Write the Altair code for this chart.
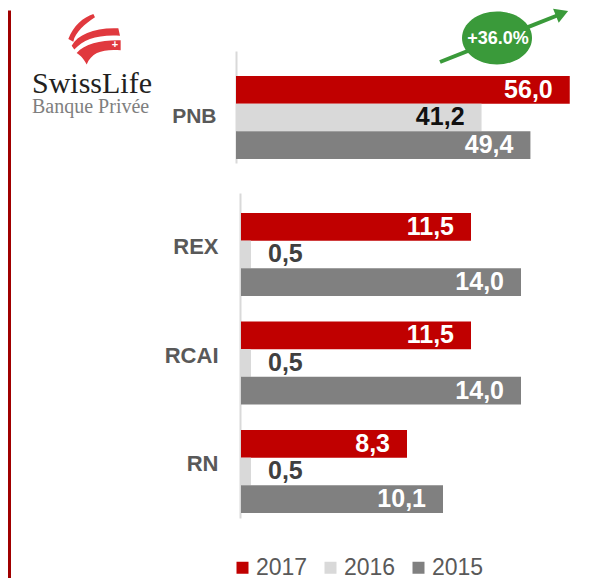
import altair as alt
import pandas as pd

years = ["2017", "2016", "2015"]
colors = ["#C00000", "#D9D9D9", "#808080"]

top_cats = ["PNB"]
top_2017 = [56.0]
top_2016 = [41.2]
top_2015 = [49.4]

bottom_cats = ["REX", "RCAI", "RN"]
bot_2017 = [11.5, 11.5, 8.3]
bot_2016 = [0.5, 0.5, 0.5]
bot_2015 = [14.0, 14.0, 10.1]

growth_label = "+36.0%"
logo_name = "SwissLife"
logo_sub = "Banque Privée"


def long_df(cats, v17, v16, v15):
    rows = []
    for i, c in enumerate(cats):
        for y, vals in zip(years, [v17, v16, v15]):
            rows.append({"cat": c, "year": y, "value": vals[i]})
    return pd.DataFrame(rows)


df_top = long_df(top_cats, top_2017, top_2016, top_2015)
df_bot = long_df(bottom_cats, bot_2017, bot_2016, bot_2015)

FONT = "Liberation Sans"

legend = alt.Legend(
    orient="none", legendX=-5, legendY=505, direction="horizontal",
    title=None, symbolType="square", symbolSize=144, symbolStrokeWidth=0,
    labelFontSize=23, labelColor="#595959", labelFont=FONT,
    labelOffset=2, columnPadding=11,
)


def panel(df, cats, x_domain, height, pad_inner, pad_outer, align,
          label_size, label_pad, axis_offset, dark_label):
    base = alt.Chart(df).transform_calculate(
        lab="replace(format(datum.value, '.1f'), '.', ',')"
    )
    y = alt.Y(
        "cat:N", sort=cats, title=None,
        scale=alt.Scale(paddingInner=pad_inner, paddingOuter=pad_outer, align=align),
        axis=alt.Axis(
            ticks=False, tickSize=0, labelFontSize=label_size, labelFontWeight="bold",
            labelColor="#595959", labelFont=FONT, labelPadding=label_pad,
            domainColor="#D9D9D9", domainWidth=2, offset=axis_offset,
            minExtent=80, maxExtent=80,
        ),
    )
    yoff = alt.YOffset("year:N", sort=years,
                       scale=alt.Scale(paddingInner=0, paddingOuter=0))
    x = alt.X("value:Q", scale=alt.Scale(domain=x_domain, nice=False, zero=False),
              axis=None)
    bars = base.mark_bar().encode(
        x=x, y=y, yOffset=yoff,
        color=alt.Color("year:N", sort=years,
                        scale=alt.Scale(domain=years, range=colors), legend=legend),
    )
    inside = base.transform_filter("datum.value >= 1").mark_text(
        align="right", dx=-17, baseline="middle", fontSize=25,
        fontWeight="bold", font=FONT,
    ).encode(
        x=x, y=y, yOffset=yoff, text="lab:N",
        color=alt.condition("datum.year == '2016'", alt.value(dark_label),
                            alt.value("white")),
    )
    outside = base.transform_filter("datum.value < 1").mark_text(
        align="left", dx=17, baseline="middle", fontSize=25,
        fontWeight="bold", font=FONT, color="#404040",
    ).encode(x=x, y=y, yOffset=yoff, text="lab:N")
    return bars, inside, outside


tb, ti, to = panel(df_top, top_cats, [0, 57.72], 112, 0, 0.1747, 0.862,
                   21, 20, 0, "#111111")
bb, bi, bo = panel(df_bot, bottom_cats, [-0.25, 16.95], 325, 0.373, 0.184, 0.5,
                   22, 22, -4, "#404040")

one = pd.DataFrame({"k": [0]})
deco = alt.Chart(one)

red_border = deco.mark_rule(color="#A00000", strokeWidth=3).encode(
    x=alt.value(-226.5), y=alt.value(-40.5), y2=alt.value(527))

arrow_line = deco.mark_rule(color="#3A9A3A", strokeWidth=4).encode(
    x=alt.value(204), y=alt.value(11), x2=alt.value(325), y2=alt.value(-37))
arrow_head = deco.mark_point(shape="triangle-right", size=230, filled=True,
                             color="#3A9A3A", opacity=1, angle=338.3).encode(
    x=alt.value(326), y=alt.value(-37.6))
ellipse = deco.mark_point(
    shape="M-1,0A1,0.757,0,1,1,1,0A1,0.757,0,1,1,-1,0Z",
    size=4900, filled=True, color="#3A9A3A", opacity=1).encode(
    x=alt.value(261), y=alt.value(-13))
growth = deco.mark_text(text=growth_label, color="white", fontSize=18,
                        fontWeight="bold", font=FONT, baseline="middle",
                        align="center").encode(x=alt.value(262), y=alt.value(-12))

swoosh_path = (
    "M-0.756,-0.033C-0.589,-0.478,-0.256,-0.756,0.078,-0.867"
    "L0.133,-0.755C-0.2,-0.545,-0.52,-0.255,-0.59,0.055Z"
    "M-0.644,0.189C-0.422,-0.2,0.133,-0.422,0.911,-0.389"
    "L0.967,-0.145C0.244,-0.19,-0.256,-0.03,-0.556,0.32Z"
    "M-0.478,0.431C-0.2,0.118,0.356,-0.006,0.989,0.01"
    "L0.989,0.342C0.467,0.298,0.022,0.376,-0.144,0.82"
    "C-0.222,0.653,-0.311,0.542,-0.478,0.431Z"
)
swoosh = deco.mark_point(shape=swoosh_path, size=3600, filled=True,
                         color="#E0393E", opacity=1).encode(
    x=alt.value(-145), y=alt.value(-11))
cross = deco.mark_text(text="+", color="white", fontSize=11, fontWeight="bold",
                       font=FONT, baseline="middle").encode(
    x=alt.value(-121), y=alt.value(-6))
name = deco.mark_text(text=logo_name, color="#231F20", fontSize=30,
                      font="Liberation Serif", align="left",
                      baseline="alphabetic").encode(x=alt.value(-204), y=alt.value(42))
sub = deco.mark_text(text=logo_sub, color="#7F7F7F", fontSize=20,
                     font="Liberation Serif", align="left",
                     baseline="alphabetic").encode(x=alt.value(-204), y=alt.value(62))

top = alt.layer(red_border, tb, ti, to, arrow_line, ellipse, arrow_head, growth,
                swoosh, cross, name, sub).properties(width=344, height=112)
bottom = alt.layer(bb, bi, bo).properties(width=344, height=325)

chart = alt.vconcat(top, bottom, spacing=30, bounds="flush").properties(
    padding=0
).configure_view(stroke=None)

chart.save("out.html", embed_options={"renderer": "svg", "actions": False})
